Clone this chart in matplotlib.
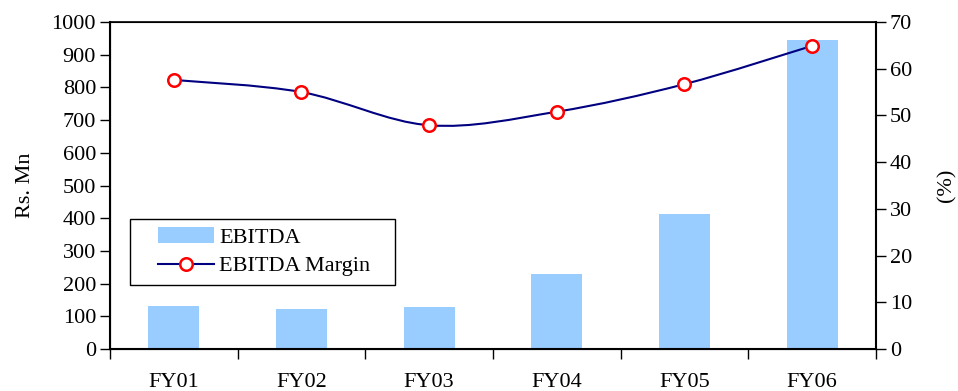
import matplotlib
matplotlib.use("Agg")
import matplotlib.pyplot as plt
from matplotlib.path import Path
from matplotlib.patches import PathPatch, Patch, Rectangle
from matplotlib.lines import Line2D
import numpy as np

years = ["FY01", "FY02", "FY03", "FY04", "FY05", "FY06"]
ebitda = [132, 122, 128, 229, 413, 945]          # Rs. Mn
margin = [57.6, 55.0, 47.9, 50.8, 56.7, 64.9]   # %

plt.rcParams['font.family'] = ['Liberation Serif', 'DejaVu Serif']
plt.rcParams['font.size'] = 16

bar_col = '#99CCFF'
line_col = '#000080'

def smoothPath(xs, ys):
  # excel-style smoothed line: cubic bezier through every point
  pts = np.column_stack([xs, ys]).astype(float)
  n = len(pts)
  verts = [pts[0]]
  codes = [Path.MOVETO]
  for i in range(n - 1):
    p0 = pts[max(i - 1, 0)]
    p1 = pts[i]
    p2 = pts[i + 1]
    p3 = pts[min(i + 2, n - 1)]
    c1 = p1 + (p2 - p0) / 6.0
    c2 = p2 - (p3 - p1) / 6.0
    verts += [c1, c2, p2]
    codes += [Path.CURVE4] * 3
  return Path(verts, codes)

fig = plt.figure(figsize=(9.58, 3.91), dpi=100)
ax = fig.add_axes([0.1148, 0.1074, 0.7996, 0.8363])
x = np.arange(len(years))
ax.bar(x, ebitda, width=0.4, color=bar_col, zorder=2)
ax.set_xlim(-0.5, len(years) - 0.5)
ax.set_ylim(0, 1000)
ax.set_yticks(np.arange(0, 1001, 100))
ax.set_ylabel("Rs. Mn", labelpad=12)

# category labels centred, tick marks on the boundaries
ax.set_xticks(np.arange(-0.5, len(years), 1.0))
ax.set_xticklabels([])
ax.set_xticks(x, minor=True)
ax.set_xticklabels(years, minor=True)
ax.tick_params(axis='x', which='major', direction='out', length=7, width=1)
ax.tick_params(axis='x', which='minor', length=0, pad=17)
ax.tick_params(axis='y', direction='out', length=7, width=1, pad=3)
for s in ax.spines.values():
  s.set_linewidth(1.2)
ax.spines['left'].set_linewidth(1.5)
ax.spines['bottom'].set_linewidth(1.5)

ax2 = ax.twinx()
ax2.set_ylim(0, 70)
ax2.set_yticks(np.arange(0, 71, 10))
ax2.tick_params(axis='y', direction='out', length=7, width=1, pad=3)
ax2.spines['right'].set_linewidth(1.5)
fig.text(0.988, 0.527, "(%)", rotation=90, ha='center', va='center')

patch = PathPatch(smoothPath(x, margin), facecolor='none', edgecolor=line_col,
                  linewidth=1.5, zorder=3)
ax2.add_patch(patch)
ax2.plot(x, margin, linestyle='none', marker='o', markersize=9,
         markerfacecolor='white', markeredgecolor='red', markeredgewidth=1.8,
         zorder=4)

# legend box drawn separately so the inner padding can be wider
box = Rectangle((0.026, 0.196), 0.346, 0.202, transform=ax2.transAxes,
                facecolor='white', edgecolor='black', linewidth=1.0, zorder=5)
ax2.add_patch(box)
handles = [Patch(facecolor=bar_col, edgecolor='none'),
           Line2D([], [], color=line_col, linewidth=1.5, marker='o', markersize=9,
                  markerfacecolor='white', markeredgecolor='red', markeredgewidth=1.8)]
leg = ax2.legend(handles, ["EBITDA", "EBITDA Margin"], loc='center left',
                 bbox_to_anchor=(0.054, 0.297), frameon=False,
                 handlelength=2.5, borderpad=0.3, labelspacing=0.35,
                 handletextpad=0.25, borderaxespad=0)
leg.set_zorder(6)

fig.savefig("out.png", dpi=100)
